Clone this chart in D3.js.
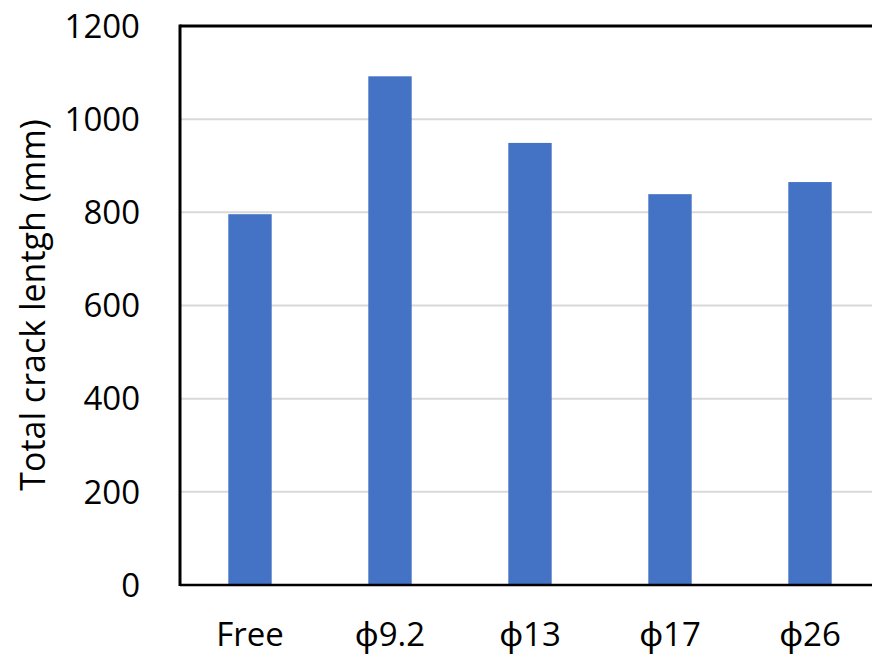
<!DOCTYPE html>
<html>
<head>
<meta charset="utf-8">
<script src="https://cdn.jsdelivr.net/npm/d3@7"></script>
<style>
  html, body { margin: 0; padding: 0; background: #fff; }
  svg { display: block; }
  text { font-family: "Open Sans", "Noto Sans", sans-serif; fill: #000; }
</style>
</head>
<body>
<svg id="chart" width="872" height="659"></svg>
<script>
const categories = ["Free", "ϕ9.2", "ϕ13", "ϕ17", "ϕ26"];
const values = [796, 1092, 949, 839, 865];
const yTicks = [0, 200, 400, 600, 800, 1000, 1200];
const yLabel = "Total crack lentgh (mm)";

const svg = d3.select("#chart");
const mLeft = 180, mRight = 880, mTop = 26, mBottom = 585;

const x = d3.scaleBand().domain(categories).range([mLeft, mRight]).paddingInner(0.69).paddingOuter(0.345);
const y = d3.scaleLinear().domain([0, 1200]).range([mBottom, mTop]);

// gridlines
svg.append("g").selectAll("line").data(yTicks.filter(d => d > 0 && d < 1200)).join("line")
  .attr("x1", mLeft).attr("x2", mRight)
  .attr("y1", d => y(d)).attr("y2", d => y(d))
  .attr("stroke", "#d9d9d9").attr("stroke-width", 2);

// bars
svg.append("g").selectAll("rect").data(values).join("rect")
  .attr("x", (d, i) => x(categories[i]))
  .attr("width", x.bandwidth())
  .attr("y", d => y(d))
  .attr("height", d => y(0) - y(d))
  .attr("fill", "#4472c4");

// frame
svg.append("line").attr("x1", mLeft).attr("x2", mRight).attr("y1", mTop).attr("y2", mTop)
  .attr("stroke", "#000").attr("stroke-width", 3);
svg.append("line").attr("x1", mLeft).attr("x2", mLeft).attr("y1", mTop - 1.5).attr("y2", mBottom + 1)
  .attr("stroke", "#000").attr("stroke-width", 3);
svg.append("line").attr("x1", mLeft).attr("x2", mRight).attr("y1", mBottom).attr("y2", mBottom)
  .attr("stroke", "#000").attr("stroke-width", 2.5);

// y axis labels
const yAxis = d3.axisLeft(y).tickValues(yTicks).tickSize(0).tickPadding(40).tickFormat(d3.format("d"));
const ya = svg.append("g").attr("transform", `translate(${mLeft},0)`).call(yAxis);
ya.select(".domain").remove();
ya.selectAll("text").attr("font-size", 33).attr("font-family", "Open Sans").attr("fill", "#000").attr("dy", "0.34em");

// x axis labels
const xAxis = d3.axisBottom(x).tickSize(0).tickPadding(38);
const xa = svg.append("g").attr("transform", `translate(0,${mBottom})`).call(xAxis);
xa.select(".domain").remove();
xa.selectAll("text").attr("font-size", 33).attr("font-family", "Open Sans").attr("fill", "#000");

// y title
svg.append("text")
  .attr("transform", "translate(45,305) rotate(-90)")
  .attr("text-anchor", "middle")
  .attr("font-size", 34)
  .text(yLabel);
</script>
</body>
</html>
